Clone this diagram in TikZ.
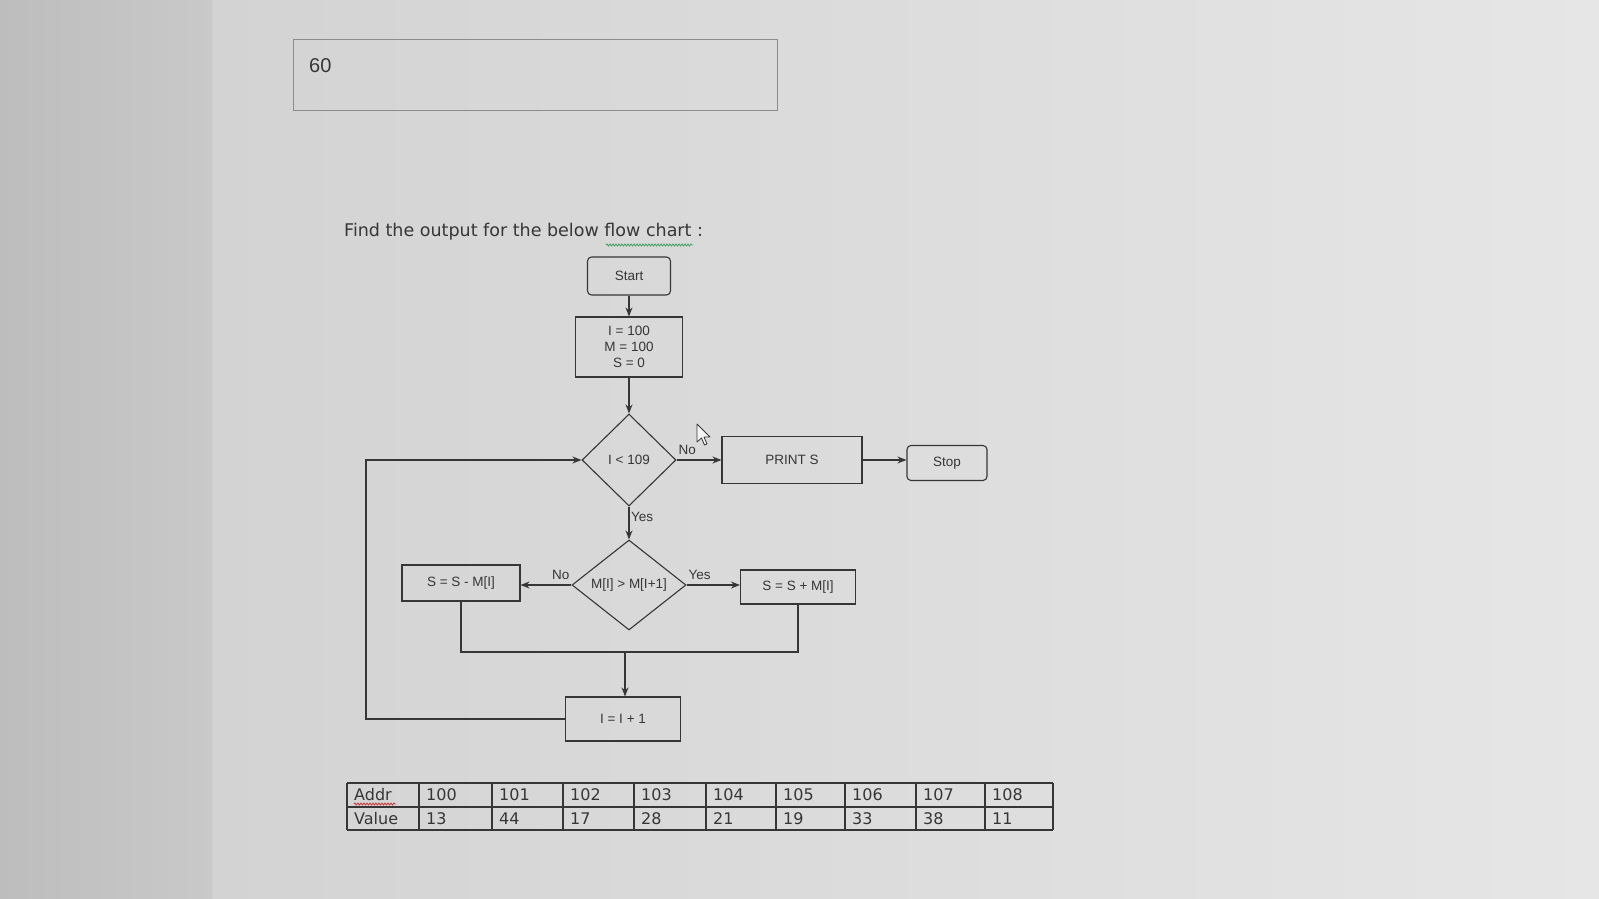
\documentclass[tikz,border=0pt]{standalone}
\usepackage{fontspec}
\setmainfont{Liberation Sans}
\newfontfamily\dvs{DejaVu Sans}
\usetikzlibrary{shapes.geometric,arrows.meta,decorations.pathmorphing}
\definecolor{ink}{HTML}{363636}
\definecolor{bgA}{HTML}{D3D3D3}
\definecolor{bgB}{HTML}{E6E6E6}
\definecolor{bgL}{HTML}{BDBDBD}
\definecolor{bgL2}{HTML}{C9C9C9}
\definecolor{boxgray}{HTML}{8C8C8C}
\definecolor{spellg}{HTML}{3FA05A}
\definecolor{spellr}{HTML}{C83232}
\begin{document}
\begin{tikzpicture}[x=1pt,y=-1pt,
  fc/.style={draw=ink, line width=1.1pt, text=ink, font=\fontsize{13.5}{16.3}\selectfont, inner sep=2pt},
  rbox/.style={fc, rectangle},
  rnd/.style={fc, rectangle, rounded corners=4pt},
  dia/.style={fc, diamond, inner sep=0pt},
  arr/.style={draw=ink, line width=1.1pt, -{Stealth[length=9pt,width=7pt]}},
  ln/.style={draw=ink, line width=1.1pt},
  lab/.style={text=ink, font=\fontsize{13.5}{15}\selectfont, inner sep=1.5pt},
  tab/.style={draw=ink, line width=1.2pt},
  cell/.style={text=ink, font=\dvs\fontsize{16}{18}\selectfont, inner sep=0pt, anchor=west},
  squig/.style={decorate, decoration={snake, amplitude=1pt, segment length=3pt}, line width=0.8pt}
]
\useasboundingbox (0,0) rectangle (1599,899);
% background
\shade[left color=bgA, right color=bgB] (212,0) rectangle (1599,899);
\shade[left color=bgL, right color=bgL2] (0,0) rectangle (212,899);

% answer box
\node[draw=boxgray, line width=1pt, minimum width=484pt, minimum height=70pt, inner sep=0pt] (ans) at (535,75) {};
\node[text=ink, font=\fontsize{20}{22}\selectfont, anchor=west, inner sep=0pt] (ansv) at (309,66) {60};

% question
\node[text=ink, font=\dvs\fontsize{17.5}{20}\selectfont, anchor=base west, inner sep=0pt] (q) at (344,236) {Find the output for the below flow chart :};
\draw[squig, spellg] (606,245) -- (693,245);

% flowchart nodes
\node[rnd, minimum width=83pt, minimum height=38pt] (start) at (629,276) {Start};
\node[rbox, minimum width=107pt, minimum height=60pt, align=center] (init) at (629,347) {I = 100\\M = 100\\S = 0};
\node[dia, minimum width=94pt, minimum height=92pt] (d1) at (629,460) {I {<} 109};
\node[rbox, minimum width=140pt, minimum height=47pt] (print) at (792,460) {PRINT S};
\node[rnd, minimum width=80pt, minimum height=35pt] (stop) at (947,463) {Stop};
\node[dia, minimum width=114pt, minimum height=90pt] (d2) at (629,585) {M[I] {>} M[I+1]};
\node[rbox, minimum width=118pt, minimum height=36pt] (sminus) at (461,583) {S = S - M[I]};
\node[rbox, minimum width=115pt, minimum height=34pt] (splus) at (798,587) {S = S + M[I]};
\node[rbox, minimum width=115pt, minimum height=44pt] (inc) at (623,719) {I = I + 1};

\coordinate (mj) at (625,652);
\coordinate (lc) at (366,0);

% connectors
\draw[arr] (start) -- (init);
\draw[arr] (init) -- (d1);
\draw[arr] (d1.east) -- node[lab, pos=0, above right, yshift=3pt] (lno1) {No} (d1.east -| print.west);
\draw[arr] (print.east) -- (print.east -| stop.west);
\draw[arr] (d1.south) -- node[lab, pos=0.3, right] (lyes1) {Yes} (d2.north);
\draw[arr] (d2.west) -- node[lab, pos=0, above left, yshift=3pt] (lno2) {No} (d2.west -| sminus.east);
\draw[arr] (d2.east) -- node[lab, pos=0, above right, yshift=3pt] (lyes2) {Yes} (d2.east -| splus.west);
\draw[ln] (sminus.south) -- (sminus.south |- mj) -- (splus.south |- mj) -- (splus.south);
\draw[arr] (mj) -- (mj |- inc.north);
\draw[arr] (inc.west) -- (inc.west -| lc) -- (lc |- d1.west) -- (d1.west);

% mouse cursor
\draw[ink, line width=0.8pt, fill=white!92!gray, line join=round]
  (697,424) -- ++(0,18) -- ++(4.5,-4) -- ++(3,7) -- ++(2.5,-1) -- ++(-3,-7) -- ++(6,0) -- cycle;

% table
\foreach \x in {347,419,492,563,634,706,776,845,916,985,1053}
  \draw[tab] (\x,783) -- (\x,830);
\draw[tab] (347,783) -- (1053,783);
\draw[tab] (347,807) -- (1053,807);
\draw[tab] (347,830) -- (1053,830);
\foreach \x/\t/\v [count=\i] in {347/Addr/Value,419/100/13,492/101/44,563/102/17,634/103/28,706/104/21,776/105/19,845/106/33,916/107/38,985/108/11}{
  \node[cell] (a\i) at (\x+7,795) {\t};
  \node[cell] (v\i) at (\x+7,818.5) {\v};
}
\draw[squig, spellr] (354,804) -- (396,804);
\end{tikzpicture}
\end{document}
